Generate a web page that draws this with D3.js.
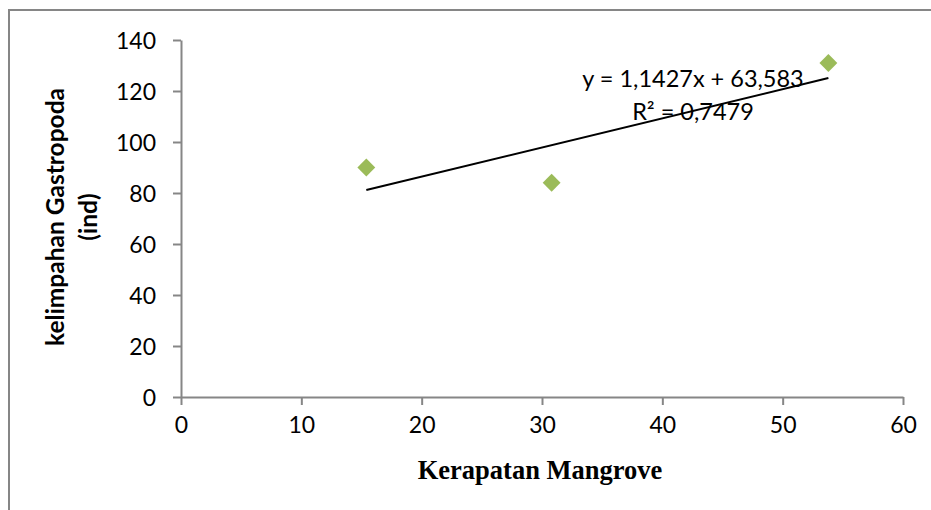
<!DOCTYPE html>
<html>
<head>
<meta charset="utf-8">
<script src="https://cdn.jsdelivr.net/npm/d3@7"></script>
<style>
  html, body { margin: 0; padding: 0; background: #fff; }
  svg { display: block; }
</style>
</head>
<body>
<svg id="chart" width="931" height="510"></svg>
<script>
// ---- data ----
const kerapatan = [15.4, 30.8, 53.8];
const kelimpahan = [90, 84, 131];
const xTicks = [0, 10, 20, 30, 40, 50, 60];
const yTicks = [0, 20, 40, 60, 80, 100, 120, 140];
const slope = 1.1427;
const intercept = 63.583;
const eqLabel = "y = 1,1427x + 63,583";
const r2Label = "R² = 0,7479";
const xTitle = "Kerapatan Mangrove";
const yTitle1 = "kelimpahan Gastropoda";
const yTitle2 = "(ind)";

const svg = d3.select("#chart");
const axisColor = "#868686";
const sans = "Lato, 'Open Sans', sans-serif";

// outer border (extends beyond right/bottom edges)
svg.append("rect").attr("x", 9).attr("y", 10).attr("width", 940).attr("height", 520)
  .attr("fill", "none").attr("stroke", axisColor).attr("stroke-width", 2);

const x = d3.scaleLinear().domain([0, 60]).range([181, 903]);
const y = d3.scaleLinear().domain([0, 140]).range([397, 40]);

// axes
const xAxis = d3.axisBottom(x).tickValues(xTicks).tickSize(8).tickSizeOuter(0).tickPadding(12);
const yAxis = d3.axisLeft(y).tickValues(yTicks).tickSize(8).tickSizeOuter(0).tickPadding(17);

const gx = svg.append("g").attr("transform", `translate(0,${y(0)})`).call(xAxis);
const gy = svg.append("g").attr("transform", `translate(${x(0)},0)`).call(yAxis);

[gx, gy].forEach(g => {
  g.select(".domain").attr("stroke", axisColor).attr("stroke-width", 2);
  g.selectAll(".tick line").attr("stroke", axisColor).attr("stroke-width", 2);
  g.selectAll(".tick text").attr("fill", "#000").attr("font-family", sans).attr("font-size", 23);
});
gx.selectAll(".tick text").attr("dy", "0.71em");
gy.selectAll(".tick text").attr("dy", "0.35em");

// trendline
const xmin = d3.min(kerapatan), xmax = d3.max(kerapatan);
svg.append("line")
  .attr("x1", x(xmin)).attr("y1", y(slope * xmin + intercept))
  .attr("x2", x(xmax)).attr("y2", y(slope * xmax + intercept))
  .attr("stroke", "#000").attr("stroke-width", 2);

// markers (diamonds)
const sym = d3.symbol().type(d3.symbolSquare).size(160);
svg.append("g").selectAll("path").data(kerapatan.map((d, i) => [d, kelimpahan[i]]))
  .join("path")
  .attr("d", sym)
  .attr("transform", d => `translate(${x(d[0])},${y(d[1])}) rotate(45)`)
  .attr("fill", "#9BBB59");

// equation labels
svg.append("text").attr("x", 693).attr("y", 87).attr("text-anchor", "middle")
  .attr("font-family", sans).attr("font-size", 23.5).attr("fill", "#000").text(eqLabel);
svg.append("text").attr("x", 693).attr("y", 120).attr("text-anchor", "middle")
  .attr("font-family", sans).attr("font-size", 23.5).attr("fill", "#000").text(r2Label);

// x title
svg.append("text").attr("x", 540).attr("y", 479).attr("text-anchor", "middle")
  .attr("font-family", "'Liberation Serif', 'Times New Roman', serif")
  .attr("font-weight", "bold").attr("font-size", 26.5).attr("fill", "#000").text(xTitle);

// y title (two lines)
const yt = svg.append("text").attr("transform", "translate(0,217) rotate(-90)")
  .attr("text-anchor", "middle").attr("font-family", sans).attr("font-weight", "bold")
  .attr("font-size", 24.5).attr("fill", "#000");
yt.append("tspan").attr("x", 0).attr("y", 64).text(yTitle1);
yt.append("tspan").attr("x", 0).attr("y", 97).text(yTitle2);
</script>
</body>
</html>
